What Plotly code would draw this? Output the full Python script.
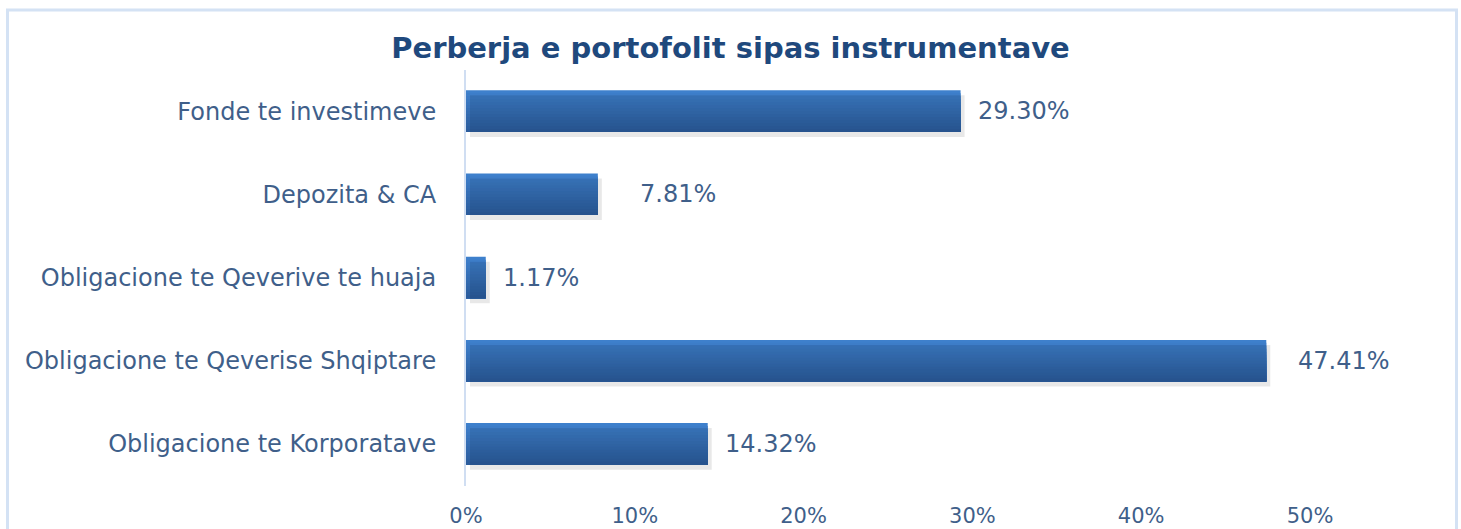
import plotly.graph_objects as go

categories = ["Obligacione te Korporatave", "Obligacione te Qeverise Shqiptare",
              "Obligacione te Qeverive te huaja", "Depozita & CA", "Fonde te investimeve"]
values = [14.32, 47.41, 1.17, 7.81, 29.30]
tick_vals = [0, 10, 20, 30, 40, 50]
tick_text = ["0%", "10%", "20%", "30%", "40%", "50%"]

# styling: extra horizontal nudge (px) of each value label, as placed in the original
label_nudge = [0, 15, 0, 25, 0]

W, H = 1461, 529
x0_px, x50_px = 466, 1310
y_top_px, y_bot_px = 69.5, 485.5
FONT = "DejaVu Sans"
TXT = "#3f5f8a"

fig = go.Figure()
# soft shadow (drawn on a slightly shifted copy of the axes)
fig.add_trace(go.Bar(
    y=categories, x=values, orientation="h", width=0.5,
    marker=dict(color="rgba(0,0,0,0.09)", line=dict(width=0)),
    hoverinfo="skip", showlegend=False, xaxis="x2", yaxis="y2",
))
# gradient-like bar: overlapping bands, each anchored at the bar bottom (top light -> bottom dark)
n_bands = 14
top_rgb = (62, 128, 204)
bot_rgb = (43, 92, 157)
band_w = 0.5 / n_bands
for i in range(n_bands):
    t = i / (n_bands - 1)
    rgb = tuple(round(top_rgb[k] + (bot_rgb[k] - top_rgb[k]) * t) for k in range(3))
    fig.add_trace(go.Bar(
        y=categories, x=values, orientation="h", width=0.5 - i * band_w,
        offset=-0.25,
        marker=dict(color="rgb(%d,%d,%d)" % rgb, line=dict(width=0)),
        showlegend=False, hoverinfo="skip" if i else None,
    ))

for c, v, d in zip(categories, values, label_nudge):
    fig.add_annotation(x=v, y=c, text=f"{v:.2f}%", xanchor="left", xshift=15 + d,
                       showarrow=False, font=dict(size=24, color=TXT, family=FONT))

xdom = [x0_px / W, x50_px / W]
ydom = [(H - y_bot_px) / H, (H - y_top_px) / H]
fig.update_layout(
    template="none",
    width=W, height=H, margin=dict(l=0, r=0, t=0, b=0, autoexpand=False),
    paper_bgcolor="white", plot_bgcolor="rgba(0,0,0,0)",
    barmode="overlay",
    title=dict(text="<b>Perberja e portofolit sipas instrumentave</b>", x=0.5, xanchor="center",
               y=1 - 48 / H, yanchor="middle", automargin=False,
               font=dict(size=29, color="#1f497d", family=FONT)),
    xaxis=dict(domain=xdom, range=[0, 50], tickvals=tick_vals, ticktext=tick_text,
               showgrid=False, zeroline=False, showline=False, ticks="", automargin=False,
               ticklabelstandoff=15,
               tickfont=dict(size=21, color=TXT, family=FONT)),
    yaxis=dict(domain=ydom, categoryorder="array", categoryarray=categories,
               showgrid=False, zeroline=False, showline=True, linecolor="#d0def2", linewidth=2,
               ticks="", ticklabelstandoff=23, automargin=False,
               tickfont=dict(size=24, color=TXT, family=FONT)),
    xaxis2=dict(domain=[(x0_px + 4) / W, (x50_px + 4) / W], range=[0, 50], visible=False,
                automargin=False),
    yaxis2=dict(domain=[(H - y_bot_px - 5) / H, (H - y_top_px - 5) / H], categoryorder="array",
                categoryarray=categories, visible=False, automargin=False),
    shapes=[dict(type="rect", xref="paper", yref="paper", x0=7.5 / W, x1=1456.5 / W,
                 y0=-0.05, y1=1 - 10 / H, line=dict(color="#d4e2f4", width=3),
                 fillcolor="rgba(0,0,0,0)", layer="below")],
)
fig.write_html("out.html")
